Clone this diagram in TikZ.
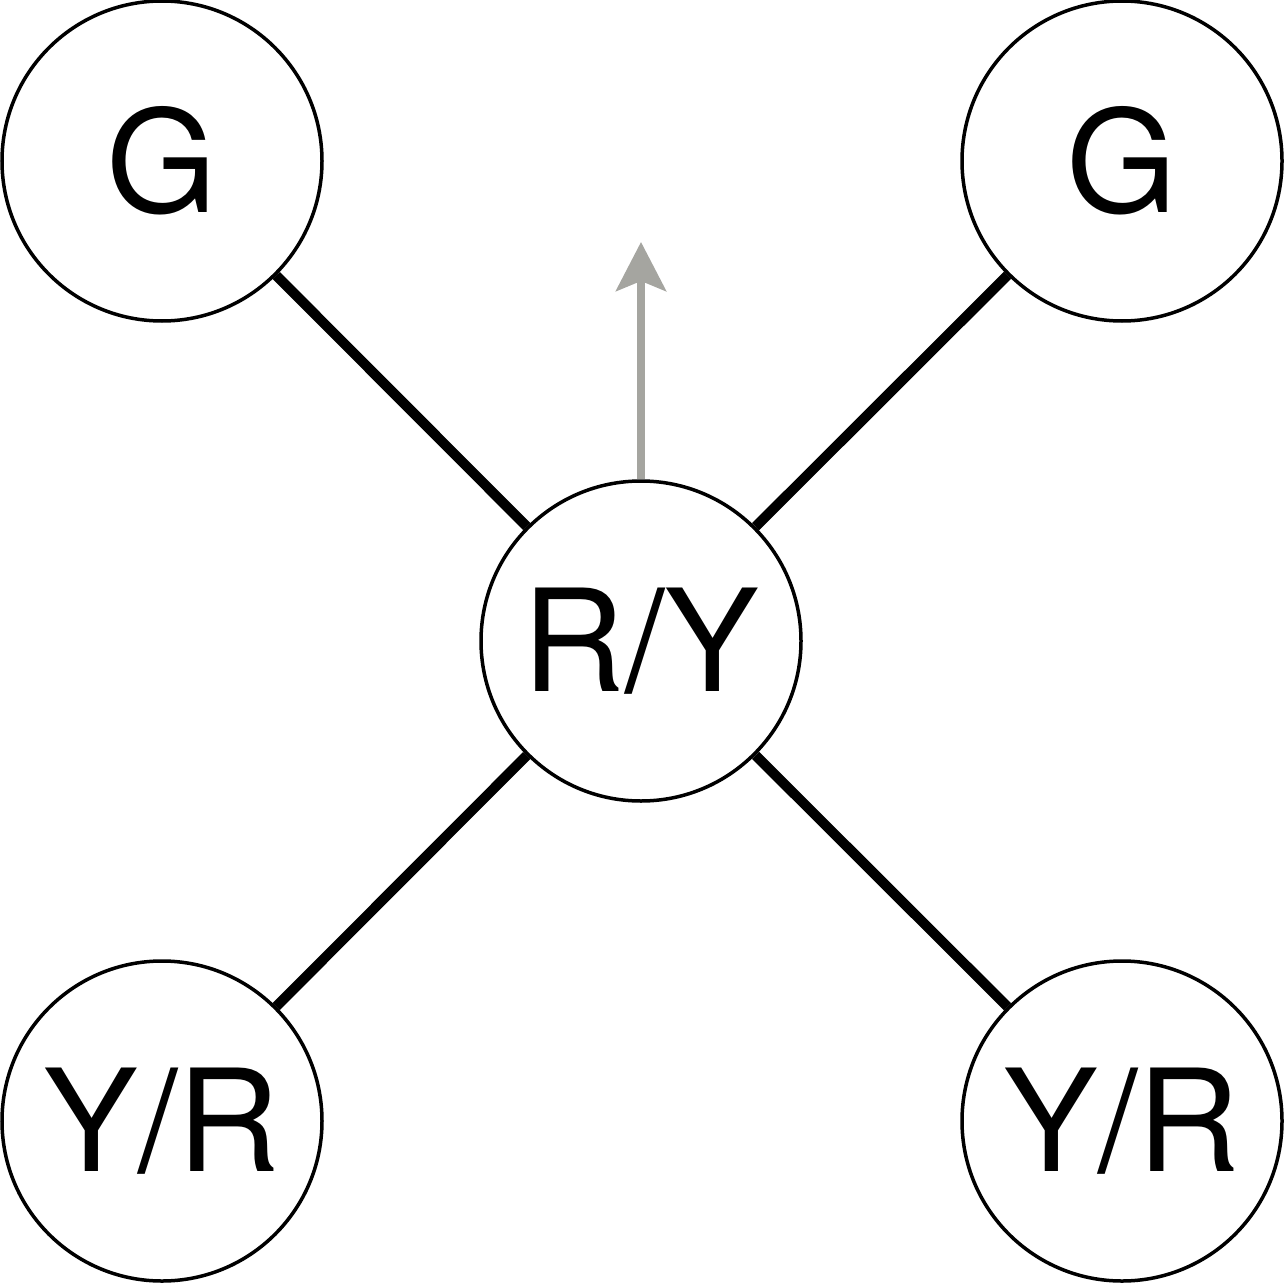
\documentclass[tikz,border=0pt]{standalone}
\usepackage{fontspec}
\setmainfont{TeX Gyre Heros}
\usetikzlibrary{arrows.meta}
\definecolor{arrowgray}{HTML}{A5A5A0}
\begin{document}
\begin{tikzpicture}[x=1pt,y=1pt,
  lightnode/.style={circle,draw=black,line width=3.5pt,minimum size=320pt,inner sep=0pt,fill=white,
    font=\fontsize{142}{142}\selectfont},
  road/.style={line width=10pt,black},
  dir/.style={line width=8pt,arrowgray,-{Stealth[length=49pt,width=50pt,inset=10pt]}}]
\useasboundingbox (0,0) rectangle (1284,-1284);
\node[lightnode] (tl) at (162,-161) {G};
\node[lightnode] (tr) at (1122,-161) {G};
\node[lightnode] (c) at (641,-641) {R/Y};
\node[lightnode] (bl) at (162,-1121) {Y/R};
\node[lightnode] (br) at (1122,-1121) {Y/R};
\draw[road] (c) -- (tl);
\draw[road] (c) -- (tr);
\draw[road] (c) -- (bl);
\draw[road] (c) -- (br);
\coordinate (tip) at (641,-242);
\draw[dir] (c.north) -- (tip);
\end{tikzpicture}
\end{document}
